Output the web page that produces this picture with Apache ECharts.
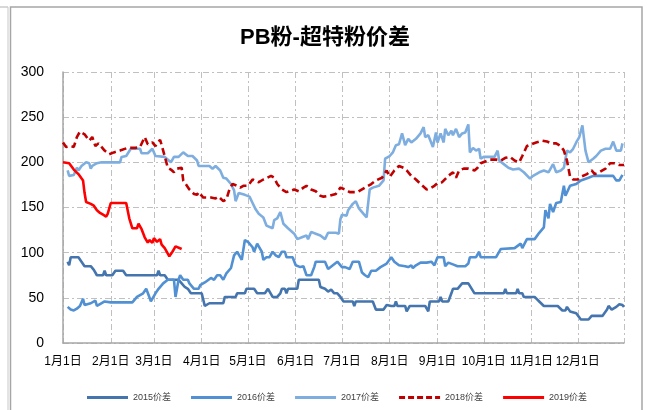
<!DOCTYPE html>
<html>
<head>
<meta charset="utf-8">
<script src="https://cdn.jsdelivr.net/npm/echarts@6/dist/echarts.min.js"></script>
<style>
  html, body { margin: 0; padding: 0; background: #fff; }
  #chart { width: 650px; height: 410px; }
</style>
</head>
<body>
<div id="chart"></div>
<script>
// month tick labels and lengths (non-leap year)
const monthLabels = ['1月1日', '2月1日', '3月1日', '4月1日', '5月1日', '6月1日',
  '7月1日', '8月1日', '9月1日', '10月1日', '11月1日', '12月1日']
const monthDays = [31, 28, 31, 30, 31, 30, 31, 31, 30, 31, 30, 31]

// [day of year (0 = 1月1日), spread]
const s2015 = [[3,90],[4,86],[5,95],[10,95],[12,90],[14,85],[18,85],[20,81],[22,75],[26,75],[27,80],[28,75],
  [32,75],[34,80],[39,80],[41,75],[61,75],[62,80],[63,75],[66,75],[68,70],[75,70],[77,66],[79,62],[81,60],
  [83,55],[90,55],[92,41],[95,44],[104,44],[105,51],[112,51],[113,55],[118,55],[119,60],[124,60],[126,55],
  [131,55],[133,60],[134,60],[136,51],[139,51],[141,55],[142,60],[144,60],[145,55],[146,60],[152,60],[153,70],
  [166,70],[167,62],[170,60],[172,57],[174,59],[176,55],[178,55],[180,51],[182,46],[188,46],[189,41],[190,46],
  [201,46],[203,37],[208,37],[210,42],[213,41],[215,41],[216,46],[217,41],[222,41],[223,35],[225,41],[235,41],
  [237,35],[238,46],[244,46],[245,51],[246,46],[250,46],[252,55],[253,60],[256,60],[259,66],[263,66],[267,55],
  [286,55],[287,60],[288,55],[294,55],[295,60],[296,55],[298,55],[299,51],[306,51],[309,46],[312,41],[321,41],
  [324,36],[326,36],[327,40],[329,35],[333,33],[336,26],[341,26],[343,30],[350,30],[353,37],[354,41],[356,37],
  [359,40],[361,43],[363,42],[364,40]]

const s2016 = [[3,40],[5,37],[7,36],[9,38],[11,41],[13,49],[14,42],[18,44],[21,47],[22,41],[24,43],[27,46],
  [31,45],[45,45],[48,51],[50,53],[52,55],[54,60],[56,51],[57,46],[60,55],[62,60],[65,66],[68,70],[72,70],
  [73,51],[75,70],[76,75],[78,70],[81,70],[82,66],[85,60],[88,60],[89,64],[92,67],[96,72],[98,70],[100,75],
  [102,75],[104,70],[106,77],[109,83],[111,97],[113,101],[115,95],[116,92],[118,114],[120,112],[123,106],
  [124,101],[126,110],[127,107],[129,101],[130,92],[132,95],[134,95],[136,101],[138,97],[140,95],[142,101],
  [144,101],[145,95],[149,95],[151,86],[154,84],[156,85],[157,80],[158,75],[161,75],[163,84],[164,90],[170,90],
  [172,82],[173,84],[178,90],[179,90],[181,84],[183,84],[186,82],[188,90],[192,90],[194,78],[196,75],[198,73],
  [200,80],[203,80],[206,84],[208,86],[210,88],[211,90],[213,95],[215,90],[218,86],[222,85],[224,84],[226,86],
  [227,83],[229,86],[232,89],[236,89],[239,90],[241,86],[243,95],[247,95],[248,85],[250,89],[253,87],[256,85],
  [261,85],[263,88],[264,95],[268,95],[270,101],[271,95],[281,95],[284,104],[293,105],[297,110],[298,105],
  [301,115],[306,115],[309,122],[312,128],[313,147],[315,138],[316,154],[318,145],[320,155],[323,156],[325,174],
  [326,163],[327,165],[329,174],[333,176],[336,180],[341,183],[344,185],[357,185],[359,180],[361,180],[363,186]]

const s2017 = [[3,191],[4,185],[7,186],[9,194],[10,191],[12,196],[15,200],[17,199],[18,193],[19,196],[22,199],
  [25,200],[37,200],[38,206],[41,207],[44,215],[50,215],[51,210],[55,210],[58,215],[60,207],[66,206],[70,200],
  [72,206],[75,206],[78,211],[81,207],[84,207],[87,202],[88,196],[95,196],[97,193],[99,196],[102,191],[104,183],
  [106,182],[109,176],[111,169],[112,157],[114,166],[118,164],[121,162],[123,155],[125,148],[127,143],[130,139],
  [132,130],[136,127],[137,136],[139,138],[141,145],[143,132],[146,127],[150,121],[152,115],[155,117],[158,119],
  [159,115],[161,123],[164,121],[167,119],[170,115],[172,122],[177,122],[179,121],[180,137],[181,142],[184,141],
  [185,147],[188,154],[190,157],[192,149],[195,143],[197,139],[199,170],[201,172],[205,174],[208,180],[209,204],
  [212,207],[214,211],[216,219],[218,220],[220,232],[222,219],[224,226],[226,222],[229,226],[232,232],[234,239],
  [235,228],[237,230],[240,217],[242,233],[243,222],[245,232],[247,222],[248,237],[250,230],[252,235],[253,230],
  [255,237],[257,228],[259,232],[261,233],[263,242],[264,211],[266,216],[268,213],[270,215],[271,204],[273,206],
  [280,206],[282,213],[283,202],[286,198],[289,194],[292,192],[296,193],[299,189],[303,182],[305,185],[309,189],
  [312,191],[315,189],[318,198],[320,189],[323,191],[325,194],[327,213],[329,211],[331,215],[333,222],[335,228],
  [337,241],[339,213],[341,200],[344,204],[346,207],[349,213],[352,215],[355,215],[357,223],[359,213],[362,213],
  [363,221]]

const s2018 = [[0,222],[2,217],[5,218],[7,217],[9,228],[11,234],[14,231],[17,224],[19,228],[21,218],[23,221],
  [27,213],[30,209],[33,211],[37,213],[42,216],[47,216],[50,217],[53,228],[55,220],[58,222],[60,218],[63,225],
  [65,213],[68,194],[70,192],[72,189],[74,193],[77,194],[78,180],[82,170],[85,165],[87,164],[88,167],[91,161],
  [96,161],[99,160],[101,162],[104,157],[106,159],[108,170],[110,176],[113,174],[115,172],[117,174],[120,174],
  [123,181],[127,178],[130,181],[135,185],[137,183],[139,176],[142,170],[145,167],[150,170],[153,168],[156,172],
  [158,174],[161,170],[164,168],[167,163],[169,162],[173,163],[177,165],[180,172],[183,170],[186,167],[191,167],
  [196,172],[200,176],[203,180],[207,183],[210,191],[212,184],[215,191],[218,196],[221,194],[223,191],[226,185],
  [229,181],[232,176],[236,170],[239,172],[241,174],[243,177],[246,178],[250,185],[253,189],[255,183],[257,191],
  [260,193],[263,193],[267,191],[269,194],[271,199],[274,201],[277,203],[281,203],[284,202],[287,205],[290,206],
  [293,202],[296,200],[298,207],[301,218],[304,220],[307,222],[311,224],[314,223],[317,221],[320,221],[323,218],
  [325,213],[327,202],[329,184],[331,181],[334,181],[336,184],[340,187],[343,191],[345,187],[348,189],[352,193],
  [355,199],[358,199],[361,197],[364,197]]

const s2019 = [[0,200],[4,199],[5,197],[7,192],[10,187],[13,180],[14,166],[15,156],[18,154],[20,152],[22,147],
  [24,144],[26,142],[28,140],[29,143],[31,155],[41,155],[43,138],[45,127],[48,127],[49,132],[51,126],[53,117],
  [55,111],[56,114],[58,111],[59,116],[61,112],[63,115],[64,109],[66,105],[68,99],[69,96],[71,101],[72,104],
  [73,107],[74,105],[77,104]]

const seriesNames = ['2015价差', '2016价差', '2017价差', '2018价差', '2019价差']
const seriesData = [s2015, s2016, s2017, s2018, s2019]
const colors = ['#4475ae', '#5190d2', '#7eaedf', '#c00000', '#ff0000']

const days = []
monthDays.forEach((n, m) => {
  for (let d = 1; d <= n; d++) days.push((m + 1) + '月' + d + '日')
})
const isMonthStart = (idx) => monthLabels.indexOf(days[idx]) >= 0

// legend icons: plain bar, or dashes for 2018
const solidIcon = 'path://M0,0H41V3H0Z'
const dashIcon = 'path://M0,0H6V3H0Z M9,0H15V3H9Z M18,0H24V3H18Z M27,0H33V3H27Z M36,0H41V3H36Z'

const chart = echarts.init(document.getElementById('chart'))

const dashDot = [6, 3, 2, 3]
const fontFamily = 'Liberation Sans, Noto Sans CJK SC'

chart.setOption({
  animation: false,
  color: colors,
  title: {
    text: 'PB粉-超特粉价差',
    left: 'center',
    top: 22,
    textStyle: { fontSize: 22, fontWeight: 'bold', color: '#000', fontFamily: fontFamily }
  },
  legend: {
    left: 82,
    top: 388,
    itemWidth: 41,
    itemHeight: 3,
    itemGap: 20,
    textStyle: { fontSize: 9, color: '#404040', fontFamily: fontFamily },
    data: seriesNames.map((name, i) => ({ name: name, icon: i === 3 ? dashIcon : solidIcon }))
  },
  grid: { left: 63, right: 26, top: 72, bottom: 67 },
  xAxis: {
    type: 'category',
    boundaryGap: false,
    data: days,
    axisLine: { lineStyle: { color: '#a6a6a6', width: 1.5 } },
    axisTick: { show: false },
    axisLabel: {
      interval: isMonthStart,
      hideOverlap: false,
      margin: 13,
      fontSize: 12,
      color: '#000',
      fontFamily: fontFamily
    },
    splitLine: {
      show: true,
      interval: (idx) => isMonthStart(idx) || idx === days.length - 1,
      lineStyle: { color: '#c0c0c0', type: dashDot, width: 1 }
    }
  },
  yAxis: {
    type: 'value',
    min: 0,
    max: 300,
    interval: 50,
    axisLine: { show: true, lineStyle: { color: '#a6a6a6', width: 1.5 } },
    axisTick: { show: false },
    axisLabel: { fontSize: 14, color: '#000', margin: 19, fontFamily: 'Liberation Sans' },
    splitLine: { lineStyle: { color: '#c0c0c0', type: dashDot, width: 1 } }
  },
  series: seriesNames.map((name, i) => ({
    name: name,
    type: 'line',
    symbol: 'none',
    data: seriesData[i],
    z: i === 4 ? 5 : 2,
    lineStyle: {
      width: 2.6,
      type: i === 3 ? [7, 4] : 'solid'
    }
  })),
  graphic: [
    { type: 'line', shape: { x1: 0, y1: 7, x2: 8, y2: 7 }, style: { stroke: '#b0b0b0', lineWidth: 1 } },
    { type: 'line', shape: { x1: 8, y1: 7, x2: 8, y2: 410 }, style: { stroke: '#c8c8c8', lineWidth: 1 } },
    { type: 'rect', shape: { x: 10.5, y: 7, width: 631.5, height: 420 }, style: { fill: 'none', stroke: '#a6a6a6', lineWidth: 1.5 } }
  ]
})
</script>
</body>
</html>
